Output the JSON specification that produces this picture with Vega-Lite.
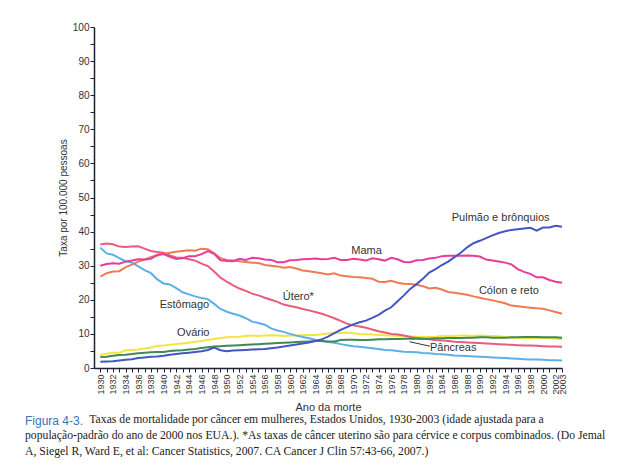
{
  "$schema": "https://vega.github.io/schema/vega-lite/v6.json",
  "width": 468,
  "height": 341,
  "autosize": {"type": "none"},
  "padding": {"left": 94, "top": 27, "right": 67, "bottom": 107},
  "background": "white",
  "config": {"view": {"stroke": null}, "font": "Liberation Sans"},
  "title": {
    "text": "Figura 4-3.",
    "subtitle": [
      "\u200b\u2003\u2003\u2003\u2003\u2003\u00a0\u00a0Taxas de mortalidade por câncer em mulheres, Estados Unidos, 1930-2003 (idade ajustada para a",
      "população-padrão do ano de 2000 nos EUA.). *As taxas de câncer uterino são para cérvice e corpus combinados. (Do Jemal",
      "A, Siegel R, Ward E, et al: Cancer Statistics, 2007. CA Cancer J Clin 57:43-66, 2007.)"
    ],
    "orient": "bottom",
    "anchor": "start",
    "frame": "group",
    "dx": -69,
    "offset": 4,
    "font": "Liberation Sans",
    "fontSize": 12,
    "fontWeight": "normal",
    "color": "#3b73b9",
    "subtitleFont": "Liberation Serif",
    "subtitleFontSize": 11.7,
    "subtitleColor": "#222222",
    "subtitleLineHeight": 16,
    "subtitlePadding": -14
  },
  "encoding": {
    "x": {
      "field": "ano",
      "type": "quantitative",
      "scale": {"domain": [1929, 2003], "nice": false, "zero": false},
      "axis": {
        "title": "Ano da morte",
        "titleFont": "Liberation Sans",
        "titleFontSize": 11,
        "titleFontWeight": "normal",
        "titleColor": "#333333",
        "titlePadding": 7,
        "values": [1930,1931,1932,1933,1934,1935,1936,1937,1938,1939,1940,1941,1942,1943,1944,1945,1946,1947,1948,1949,1950,1951,1952,1953,1954,1955,1956,1957,1958,1959,1960,1961,1962,1963,1964,1965,1966,1967,1968,1969,1970,1971,1972,1973,1974,1975,1976,1977,1978,1979,1980,1981,1982,1983,1984,1985,1986,1987,1988,1989,1990,1991,1992,1993,1994,1995,1996,1997,1998,1999,2000,2001,2002,2003],
        "format": "d",
        "labelExpr": "(datum.value % 2 == 0 || datum.value == 2003) ? datum.label : ''",
        "labelAngle": -90,
        "labelFontSize": 9,
        "labelColor": "#333333",
        "labelOverlap": false,
        "labelPadding": 2,
        "labelFlush": false,
        "tickSize": 4,
        "tickColor": "#1e2233",
        "domainColor": "#1e2233",
        "domainWidth": 1.5,
        "grid": false
      }
    },
    "y": {
      "field": "v",
      "type": "quantitative",
      "scale": {"domain": [0, 100], "nice": false},
      "axis": {
        "title": "Taxa por 100.000 pessoas",
        "titleFont": "Liberation Sans",
        "titleFontSize": 10,
        "titleFontWeight": "normal",
        "titleColor": "#333333",
        "titlePadding": 4,
        "values": [0,5,10,15,20,25,30,35,40,45,50,55,60,65,70,75,80,85,90,95,100],
        "labelExpr": "datum.value % 10 == 0 ? datum.label : ''",
        "labelFontSize": 10,
        "labelColor": "#333333",
        "labelPadding": 1,
        "labelFlush": false,
        "tickSize": 4,
        "tickColor": "#1e2233",
        "domainColor": "#1e2233",
        "domainWidth": 1.5,
        "grid": false
      }
    }
  },
  "layer": [
    {
      "data": {
        "values": [
          {"ano":1930,"P":1.8,"M":30.0,"C":26.8,"U":36.2,"E":35.3,"O":3.8,"G":3.2},
          {"ano":1931,"P":1.9,"M":30.5,"C":27.8,"U":36.5,"E":33.6,"O":4.2,"G":3.3},
          {"ano":1932,"P":2.0,"M":30.7,"C":28.3,"U":36.3,"E":33.2,"O":4.5,"G":3.6},
          {"ano":1933,"P":2.2,"M":30.6,"C":28.4,"U":35.6,"E":32.2,"O":4.5,"G":3.8},
          {"ano":1934,"P":2.4,"M":31.2,"C":29.6,"U":35.5,"E":31.3,"O":5.2,"G":3.9},
          {"ano":1935,"P":2.6,"M":31.5,"C":30.3,"U":35.6,"E":30.9,"O":5.3,"G":4.1},
          {"ano":1936,"P":2.9,"M":31.9,"C":31.2,"U":35.7,"E":29.8,"O":5.4,"G":4.3},
          {"ano":1937,"P":3.1,"M":31.8,"C":31.8,"U":35.0,"E":28.7,"O":5.7,"G":4.5},
          {"ano":1938,"P":3.3,"M":32.0,"C":32.6,"U":34.3,"E":27.8,"O":6.0,"G":4.6},
          {"ano":1939,"P":3.4,"M":33.2,"C":33.0,"U":34.0,"E":26.0,"O":6.5,"G":4.7},
          {"ano":1940,"P":3.6,"M":33.4,"C":33.5,"U":33.8,"E":24.8,"O":6.6,"G":4.7},
          {"ano":1941,"P":3.9,"M":32.6,"C":33.8,"U":33.0,"E":24.5,"O":6.8,"G":5.0},
          {"ano":1942,"P":4.1,"M":32.0,"C":34.1,"U":32.4,"E":23.4,"O":7.0,"G":5.1},
          {"ano":1943,"P":4.3,"M":32.2,"C":34.3,"U":32.3,"E":22.2,"O":7.2,"G":5.2},
          {"ano":1944,"P":4.5,"M":32.8,"C":34.5,"U":31.9,"E":21.6,"O":7.4,"G":5.4},
          {"ano":1945,"P":4.7,"M":32.8,"C":34.4,"U":31.5,"E":21.0,"O":7.7,"G":5.6},
          {"ano":1946,"P":4.9,"M":33.4,"C":35.0,"U":30.6,"E":20.5,"O":7.9,"G":5.9},
          {"ano":1947,"P":5.3,"M":34.3,"C":34.8,"U":29.9,"E":20.2,"O":8.2,"G":6.1},
          {"ano":1948,"P":6.0,"M":33.5,"C":33.6,"U":28.3,"E":18.8,"O":8.5,"G":6.3},
          {"ano":1949,"P":5.2,"M":31.6,"C":32.2,"U":26.5,"E":17.3,"O":8.8,"G":6.4},
          {"ano":1950,"P":4.9,"M":31.4,"C":31.7,"U":25.3,"E":16.5,"O":9.0,"G":6.5},
          {"ano":1951,"P":5.1,"M":31.3,"C":31.5,"U":24.2,"E":15.9,"O":9.1,"G":6.6},
          {"ano":1952,"P":5.2,"M":32.0,"C":31.3,"U":23.3,"E":15.4,"O":9.2,"G":6.7},
          {"ano":1953,"P":5.3,"M":31.7,"C":31.1,"U":22.6,"E":14.6,"O":9.4,"G":6.8},
          {"ano":1954,"P":5.4,"M":32.3,"C":30.9,"U":21.8,"E":13.6,"O":9.5,"G":6.9},
          {"ano":1955,"P":5.5,"M":32.2,"C":30.8,"U":21.3,"E":13.2,"O":9.4,"G":7.0},
          {"ano":1956,"P":5.6,"M":31.8,"C":30.2,"U":20.6,"E":12.7,"O":9.5,"G":7.1},
          {"ano":1957,"P":5.8,"M":31.7,"C":30.0,"U":20.0,"E":11.6,"O":9.6,"G":7.2},
          {"ano":1958,"P":6.0,"M":31.0,"C":29.8,"U":19.4,"E":11.0,"O":9.5,"G":7.3},
          {"ano":1959,"P":6.3,"M":31.0,"C":29.4,"U":18.6,"E":10.6,"O":9.4,"G":7.4},
          {"ano":1960,"P":6.6,"M":31.6,"C":29.6,"U":18.2,"E":10.0,"O":9.5,"G":7.5},
          {"ano":1961,"P":6.9,"M":31.7,"C":29.2,"U":17.8,"E":9.5,"O":9.5,"G":7.6},
          {"ano":1962,"P":7.2,"M":31.9,"C":28.6,"U":17.3,"E":9.1,"O":9.6,"G":7.7},
          {"ano":1963,"P":7.5,"M":32.0,"C":28.4,"U":16.9,"E":8.7,"O":9.7,"G":7.8},
          {"ano":1964,"P":7.9,"M":32.1,"C":28.1,"U":16.4,"E":8.3,"O":9.7,"G":7.9},
          {"ano":1965,"P":8.4,"M":31.9,"C":27.8,"U":15.9,"E":7.9,"O":9.9,"G":7.9},
          {"ano":1966,"P":9.2,"M":32.0,"C":27.4,"U":15.3,"E":7.6,"O":10.1,"G":7.8},
          {"ano":1967,"P":10.2,"M":32.3,"C":27.8,"U":14.6,"E":7.4,"O":10.3,"G":7.8},
          {"ano":1968,"P":11.2,"M":31.7,"C":27.1,"U":13.8,"E":7.0,"O":10.3,"G":8.2},
          {"ano":1969,"P":12.0,"M":31.7,"C":26.9,"U":13.0,"E":6.7,"O":10.4,"G":8.3},
          {"ano":1970,"P":12.8,"M":32.0,"C":26.7,"U":12.5,"E":6.4,"O":10.2,"G":8.3},
          {"ano":1971,"P":13.4,"M":31.8,"C":26.6,"U":12.2,"E":6.2,"O":10.0,"G":8.2},
          {"ano":1972,"P":13.9,"M":31.5,"C":26.4,"U":11.8,"E":6.0,"O":9.9,"G":8.2},
          {"ano":1973,"P":14.7,"M":32.2,"C":26.2,"U":11.3,"E":5.8,"O":9.8,"G":8.3},
          {"ano":1974,"P":15.6,"M":31.9,"C":25.3,"U":10.8,"E":5.6,"O":9.7,"G":8.4},
          {"ano":1975,"P":16.8,"M":31.5,"C":25.2,"U":10.4,"E":5.3,"O":9.6,"G":8.4},
          {"ano":1976,"P":17.8,"M":32.3,"C":25.6,"U":10.0,"E":5.2,"O":9.5,"G":8.5},
          {"ano":1977,"P":19.6,"M":31.9,"C":25.0,"U":9.8,"E":5.0,"O":9.4,"G":8.5},
          {"ano":1978,"P":21.3,"M":31.1,"C":24.7,"U":9.5,"E":4.8,"O":9.4,"G":8.6},
          {"ano":1979,"P":23.2,"M":31.0,"C":24.6,"U":9.1,"E":4.7,"O":9.3,"G":8.6},
          {"ano":1980,"P":24.6,"M":31.6,"C":24.4,"U":8.8,"E":4.6,"O":9.2,"G":8.6},
          {"ano":1981,"P":26.2,"M":31.7,"C":24.0,"U":8.6,"E":4.4,"O":9.1,"G":8.6},
          {"ano":1982,"P":28.0,"M":32.1,"C":23.3,"U":8.4,"E":4.3,"O":9.1,"G":8.6},
          {"ano":1983,"P":29.0,"M":32.3,"C":23.5,"U":8.2,"E":4.1,"O":9.2,"G":8.7},
          {"ano":1984,"P":30.2,"M":32.8,"C":23.0,"U":8.1,"E":4.0,"O":9.4,"G":8.7},
          {"ano":1985,"P":31.2,"M":32.9,"C":22.3,"U":7.9,"E":3.9,"O":9.3,"G":8.8},
          {"ano":1986,"P":32.5,"M":32.9,"C":22.1,"U":7.7,"E":3.7,"O":9.4,"G":8.8},
          {"ano":1987,"P":33.8,"M":32.9,"C":21.8,"U":7.6,"E":3.6,"O":9.5,"G":8.8},
          {"ano":1988,"P":35.4,"M":33.0,"C":21.5,"U":7.5,"E":3.5,"O":9.5,"G":8.9},
          {"ano":1989,"P":36.6,"M":32.9,"C":21.0,"U":7.4,"E":3.4,"O":9.4,"G":8.9},
          {"ano":1990,"P":37.3,"M":32.7,"C":20.6,"U":7.3,"E":3.3,"O":9.5,"G":9.0},
          {"ano":1991,"P":38.1,"M":31.8,"C":20.2,"U":7.2,"E":3.2,"O":9.4,"G":9.0},
          {"ano":1992,"P":38.9,"M":31.5,"C":19.9,"U":7.1,"E":3.1,"O":9.4,"G":8.9},
          {"ano":1993,"P":39.6,"M":31.2,"C":19.4,"U":7.0,"E":3.0,"O":9.3,"G":8.9},
          {"ano":1994,"P":40.1,"M":30.9,"C":19.0,"U":6.9,"E":2.9,"O":9.1,"G":8.9},
          {"ano":1995,"P":40.5,"M":30.4,"C":18.3,"U":6.8,"E":2.8,"O":8.9,"G":9.0},
          {"ano":1996,"P":40.7,"M":29.0,"C":18.1,"U":6.7,"E":2.7,"O":8.9,"G":9.0},
          {"ano":1997,"P":40.9,"M":28.2,"C":17.9,"U":6.6,"E":2.6,"O":8.8,"G":9.1},
          {"ano":1998,"P":41.1,"M":27.6,"C":17.7,"U":6.6,"E":2.5,"O":8.9,"G":9.1},
          {"ano":1999,"P":40.3,"M":26.6,"C":17.5,"U":6.5,"E":2.5,"O":8.8,"G":9.1},
          {"ano":2000,"P":41.2,"M":26.6,"C":17.4,"U":6.4,"E":2.4,"O":8.8,"G":9.0},
          {"ano":2001,"P":41.2,"M":25.8,"C":16.9,"U":6.3,"E":2.3,"O":8.7,"G":9.0},
          {"ano":2002,"P":41.7,"M":25.3,"C":16.4,"U":6.3,"E":2.3,"O":8.6,"G":9.0},
          {"ano":2003,"P":41.4,"M":25.0,"C":15.9,"U":6.2,"E":2.2,"O":8.5,"G":8.9}
        ]
      },
      "transform": [{"fold": ["O", "E", "U", "C", "M", "G", "P"], "as": ["s", "v"]}],
      "mark": {"type": "line", "strokeWidth": 2, "interpolate": "linear"},
      "encoding": {
        "color": {
          "field": "s",
          "type": "nominal",
          "scale": {
            "domain": ["O", "E", "U", "C", "M", "G", "P"],
            "range": ["#f4e443", "#5cb0e6", "#e85d7c", "#f07a52", "#e73c9b", "#3d8a55", "#4456c2"]
          },
          "legend": null
        }
      }
    },
    {
      "data": {
        "values": [
          {"ano": 1993.3, "v": 44.0, "t": "Pulmão e brônquios"},
          {"ano": 1972.1, "v": 34.4, "t": "Mama"},
          {"ano": 1994.6, "v": 22.6, "t": "Cólon e reto"},
          {"ano": 1961.3, "v": 20.9, "t": "Útero*"},
          {"ano": 1943.3, "v": 18.4, "t": "Estômago"},
          {"ano": 1944.7, "v": 10.3, "t": "Ovário"},
          {"ano": 1985.8, "v": 5.9, "t": "Pâncreas"}
        ]
      },
      "mark": {"type": "text", "font": "Liberation Sans", "fontSize": 11, "color": "#333333"},
      "encoding": {"text": {"field": "t", "type": "nominal"}}
    },
    {
      "data": {"values": [{"ano": 1978.9, "v": 7.7, "ano2": 1982.1, "v2": 6.4}]},
      "mark": {"type": "rule", "color": "#333333", "strokeWidth": 1},
      "encoding": {"x2": {"field": "ano2"}, "y2": {"field": "v2"}}
    }
  ]
}
